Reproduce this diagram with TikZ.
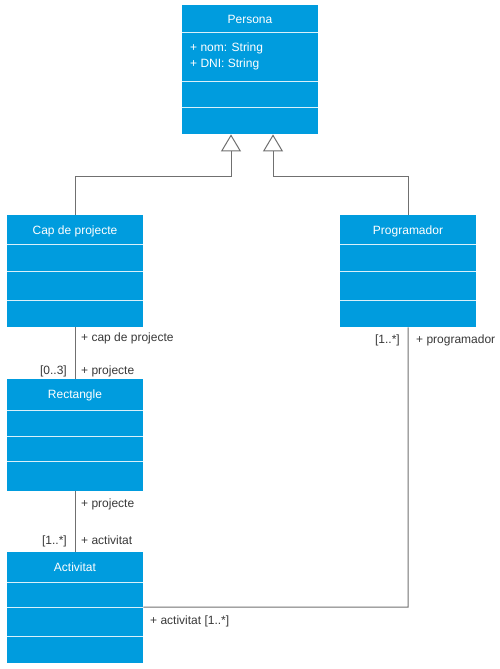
\documentclass[tikz,border=0pt]{standalone}
\usepackage{fontspec}
\setmainfont{Liberation Sans}
\usetikzlibrary{arrows.meta}
\definecolor{umlblue}{HTML}{009CDE}
\definecolor{linegrey}{HTML}{707070}
\definecolor{labelgrey}{HTML}{383838}
\begin{document}
\begin{tikzpicture}[x=1pt,y=-1pt,
  classbox/.style={fill=umlblue, draw=none, minimum width=136pt, inner sep=0pt, anchor=north west},
  seprule/.style={draw=white, line width=1pt, opacity=0.85},
  titletext/.style={text=white, font=\fontsize{12}{14}\selectfont, inner sep=0pt, text height=8.6pt, text depth=2.5pt, yshift=-1.5pt},
  attrtext/.style={text=white, font=\fontsize{12}{14}\selectfont, inner sep=0pt, anchor=west, text height=8.6pt, text depth=2.5pt, yshift=-1.5pt},
  rolelabel/.style={text=labelgrey, font=\fontsize{12}{14}\selectfont, inner sep=0pt, text height=8.6pt, text depth=2.5pt, yshift=-1.5pt},
  assoc/.style={draw=linegrey, line width=1pt},
  generalization/.style={draw=linegrey, line width=1pt,
    -{Triangle[open, width=20pt, length=17pt, fill=white]}}
]
\useasboundingbox (0,0) rectangle (500,669);

% ---- class boxes ----
\node[classbox, minimum height=129pt] (persona) at (182,5) {};
\node[classbox, minimum height=112pt] (cap) at (7,215) {};
\node[classbox, minimum height=112pt] (prog) at (340,215) {};
\node[classbox, minimum height=112pt] (rect) at (7,379) {};
\node[classbox, minimum height=111pt] (act) at (7,552) {};

% ---- compartment rules ----
\foreach \y in {33,81,107} \draw[seprule] (182,\y) -- (318,\y);
\foreach \y in {244,271,300} {
  \draw[seprule] (7,\y) -- (143,\y);
  \draw[seprule] (340,\y) -- (476,\y);
}
\foreach \y in {410,436,461} \draw[seprule] (7,\y) -- (143,\y);
\foreach \y in {582,607,636} \draw[seprule] (7,\y) -- (143,\y);

% ---- class names and attributes ----
\node[titletext] (persona-name) at (250,19) {Persona};
\node[attrtext] (persona-nom) at (190,47) {+ nom: String};
\node[attrtext] (persona-dni) at (190,63) {+ DNI: String};
\node[titletext] (cap-name) at (75,230) {Cap de projecte};
\node[titletext] (prog-name) at (408,230) {Programador};
\node[titletext] (rect-name) at (75,394) {Rectangle};
\node[titletext] (act-name) at (75,567) {Activitat};

% ---- generalizations ----
\coordinate (gl) at (231,176);
\coordinate (gr) at (273,176);
\draw[generalization] (cap.north) |- (gl) -- (gl |- persona.south);
\draw[generalization] (prog.north) |- (gr) -- (gr |- persona.south);

% ---- associations ----
\coordinate (bend) at (408,607);
\draw[assoc] (cap.south) -- (rect.north);
\draw[assoc] (rect.south) -- (act.north);
\draw[assoc] (prog.south) -- (bend) -- (bend -| act.east);

% ---- role names and multiplicities ----
\node[rolelabel, anchor=west] (l1) at (81,337) {+ cap de projecte};
\node[rolelabel, anchor=east] (l2) at (67,370) {[0..3]};
\node[rolelabel, anchor=west] (l3) at (81,370) {+ projecte};
\node[rolelabel, anchor=west] (l4) at (81,503) {+ projecte};
\node[rolelabel, anchor=east] (l5) at (67,540) {[1..*]};
\node[rolelabel, anchor=west] (l6) at (81,540) {+ activitat};
\node[rolelabel, anchor=east] (l7) at (400,339) {[1..*]};
\node[rolelabel, anchor=west] (l8) at (416,339) {+ programador};
\node[rolelabel, anchor=west] (l9) at (150,620) {+ activitat [1..*]};
\end{tikzpicture}
\end{document}
